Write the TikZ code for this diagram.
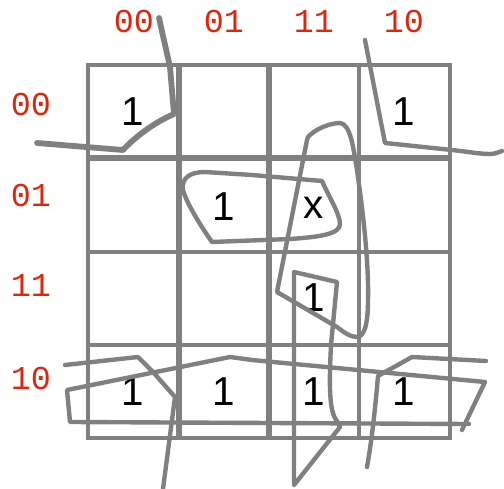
\documentclass[tikz,border=0pt]{standalone}
\usepackage{fontspec}
\setmainfont{Liberation Sans}
\newfontfamily\codefont{Liberation Mono}
\definecolor{gridGray}{HTML}{808080}
\definecolor{labelRed}{HTML}{E0260A}
\usetikzlibrary{positioning}

\begin{document}
\begin{tikzpicture}[
    x=0.02cm, y=-0.02cm,
    gridline/.style={gridGray, line width=2.8pt},
    loopline/.style={gridGray, line width=2.5pt, line cap=round, line join=round},
    lbl/.style={text=labelRed, inner sep=0pt, font=\codefont\fontsize{19}{19}\selectfont},
    cell/.style={inner sep=0pt, font=\fontsize{23}{23}\selectfont}
]
\useasboundingbox (0,0) rectangle (504,489);

% Grid
\draw[gridline] (88,65) rectangle (450,438);
\foreach \x in {179,269,359} \draw[gridline] (\x,65) -- (\x,438);
\foreach \y in {158,252,345} \draw[gridline] (88,\y) -- (450,\y);
% doubled strokes
\draw[gridline, line width=3.6pt] (179,65) -- (179,438);
\draw[gridline, line width=3.6pt] (269,65) -- (269,438);
\draw[gridline, line width=3.6pt] (88,158) -- (450,158);

% Column labels
\node[lbl] (col00) at (134,22) {00};
\node[lbl] (col01) at (224,22) {01};
\node[lbl] (col11) at (314,22) {11};
\node[lbl] (col10) at (404,22) {10};

% Row labels
\node[lbl] (row00) at (31,105) {00};
\node[lbl] (row01) at (31,196) {01};
\node[lbl] (row11) at (31,286) {11};
\node[lbl] (row10) at (31,378) {10};

% Cells
\node[cell] (m0000) at (133,112) {1};
\node[cell] (m0010) at (404,112) {1};
\node[cell] (m0101) at (224,207) {1};
\node[cell] (m0111) at (314,208) {x};
\node[cell] (m1111) at (314,298) {1};
\node[cell] (m1000) at (133,392) {1};
\node[cell] (m1001) at (224,392) {1};
\node[cell] (m1011) at (314,392) {1};
\node[cell] (m1010) at (404,392) {1};

% Loops
\draw[loopline, line width=3.3pt] (159,18) -- (170,67) -- (174,114)
    .. controls (155,122) and (135,137) .. (123,150) -- (37,143);
\draw[loopline] (365,40) -- (385,143) -- (452,150)
    .. controls (470,152) and (480,154) .. (490,154)
    .. controls (495,154) and (499,152) .. (502,151);
\draw[loopline] (212,242) .. controls (200,225) and (186,202) .. (183,190)
    .. controls (181,178) and (190,172) .. (205,172) -- (252,175) -- (322,181)
    .. controls (328,195) and (340,214) .. (340,224)
    .. controls (340,234) and (320,237) .. (290,239) -- cycle;
\draw[loopline] (308,137) .. controls (315,129) and (330,123) .. (340,123)
    .. controls (350,124) and (353,145) .. (357,170)
    .. controls (362,205) and (369,260) .. (368,300)
    .. controls (368,325) and (364,337) .. (357,337)
    .. controls (350,337) and (345,333) .. (337,327) -- (277,292) -- (307,140) -- cycle;
\draw[loopline] (294,485) -- (294,272) -- (337,282) -- (331,345)
    .. controls (329,385) and (329,412) .. (337,421) -- (340,427) -- cycle;
\draw[loopline] (65,365) -- (138,357) -- (153,372) -- (175,397) -- (163,489);
\draw[loopline] (462,430) -- (485,382) -- (252,360) -- (230,357) -- (67,390)
    -- (70,422) -- (469,424);
\draw[loopline] (367,467) .. controls (372,440) and (376,400) .. (378,376)
    -- (412,357) -- (486,361);

\end{tikzpicture}
\end{document}
